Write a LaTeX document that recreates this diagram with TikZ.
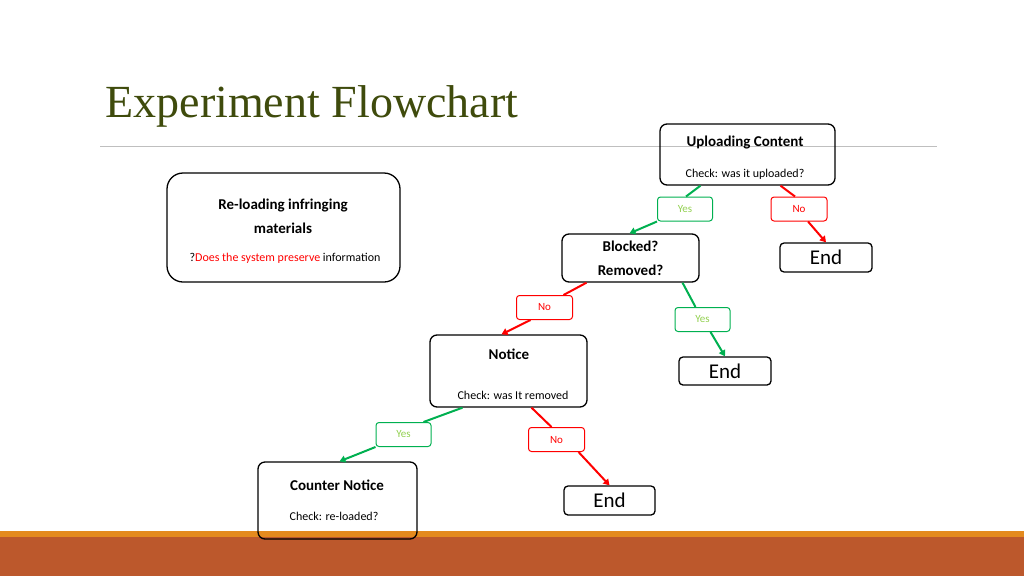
\documentclass[tikz,border=0pt]{standalone}
\usepackage{fontspec}
\setmainfont{Carlito}
\newfontfamily\titlefont{Liberation Serif}
\usetikzlibrary{arrows.meta}
\definecolor{olivetitle}{HTML}{3F4B0C}
\definecolor{yesgreen}{HTML}{00B050}
\definecolor{yestext}{HTML}{92D050}
\definecolor{nored}{HTML}{FF0000}
\definecolor{barorange}{HTML}{E48A1E}
\definecolor{barbrown}{HTML}{BC582C}
\tikzset{
  flowbox/.style={draw, line width=1.3pt, rounded corners=7pt, inner sep=0pt},
  yeslab/.style={draw=yesgreen, line width=1pt, rounded corners=3pt, minimum width=55pt, minimum height=24pt, text=yestext, font=\fontsize{11}{11}\selectfont},
  nolab/.style={draw=nored, line width=1pt, rounded corners=3pt, minimum width=56pt, minimum height=24pt, text=nored, font=\fontsize{11}{11}\selectfont},
  yesarr/.style={yesgreen, line width=2pt},
  noarr/.style={nored, line width=2pt},
  tip/.style={-{Triangle[length=6pt,width=7pt]}}
}
\begin{document}
\begin{tikzpicture}[x=1pt,y=-1pt]
    \useasboundingbox (0,0) rectangle (1024,576);
    \fill[barbrown] (0,537) rectangle (1024,576);
    \fill[barorange] (0,531) rectangle (1024,537);
    \draw[gray!50, line width=1pt] (100,146)--(937,146);
    \node[anchor=base west, text=olivetitle, font=\titlefont\fontsize{46}{46}\selectfont] (title) at (102,117) {Experiment Flowchart};

    % boxes
    \node[flowbox, minimum width=233pt, minimum height=109pt, rounded corners=16pt] (reload) at (283.5,227.5) {};
    \node[font=\bfseries\fontsize{15}{24}\selectfont, align=center] at (283,216) {Re-loading infringing\\materials};
    \node[font=\fontsize{12}{12}\selectfont] at (285,258) {?\textcolor{nored}{Does the system preserve} information};

    \node[flowbox, minimum width=175pt, minimum height=61pt] (up) at (747.5,154.5) {};
    \node[font=\bfseries\fontsize{15}{15}\selectfont] at (745,143) {Uploading Content};
    \node[font=\fontsize{12}{12}\selectfont] at (745,174) {Check: was it uploaded?};

    \node[flowbox, minimum width=137pt, minimum height=48pt, font=\bfseries\fontsize{15}{24}\selectfont, align=center] (blk) at (630.5,258) {Blocked?\\Removed?};

    \node[flowbox, minimum width=157pt, minimum height=72pt] (notice) at (508.5,371) {};
    \node[font=\bfseries\fontsize{15}{15}\selectfont] at (509,354) {Notice};
    \node[font=\fontsize{12}{12}\selectfont] at (513,395) {Check: was It removed};

    \node[flowbox, minimum width=159pt, minimum height=77pt] (counter) at (337.5,500.5) {};
    \node[font=\bfseries\fontsize{15}{15}\selectfont] at (337,485) {Counter Notice};
    \node[font=\fontsize{12}{12}\selectfont] at (334,516) {Check: re-loaded?};

    \node[flowbox, rounded corners=4pt, minimum width=92pt, minimum height=29pt, font=\fontsize{21}{21}\selectfont] (endA) at (826,257.5) {End};
    \node[flowbox, rounded corners=4pt, minimum width=92pt, minimum height=28pt, font=\fontsize{21}{21}\selectfont] (endB) at (725,371) {End};
    \node[flowbox, rounded corners=4pt, minimum width=91pt, minimum height=29pt, font=\fontsize{21}{21}\selectfont] (endC) at (609.5,500.5) {End};

    % labels
    \node[yeslab] (yesA) at (685,209) {Yes};
    \node[nolab] (noA) at (799,209) {No};
    \node[nolab] (noB) at (544.5,307.5) {No};
    \node[yeslab] (yesB) at (702.5,319.5) {Yes};
    \node[yeslab] (yesC) at (403.5,434.5) {Yes};
    \node[nolab] (noC) at (556.5,439.5) {No};

    % connectors
    \draw[yesarr] ([xshift=-47pt]up.south) -- ([xshift=1pt]yesA.north);
    \draw[yesarr, tip] (yesA.south west) -- ([xshift=-1pt]blk.north);
    \draw[noarr] ([xshift=33pt]up.south) -- ([xshift=-4pt]noA.north);
    \draw[noarr, tip] ([xshift=9pt]noA.south) -- (endA.north);
    \draw[noarr] ([xshift=-44pt]blk.south) -- ([xshift=19pt]noB.north);
    \draw[noarr, tip] ([xshift=-14pt]noB.south) -- ([xshift=-7pt]notice.north);
    \draw[yesarr] ([xshift=52pt]blk.south) -- ([xshift=-7pt]yesB.north);
    \draw[yesarr, tip] ([xshift=8pt]yesB.south) -- (endB.north);
    \draw[yesarr] ([xshift=-46pt]notice.south) -- ([xshift=20pt]yesC.north);
    \draw[yesarr, tip] (yesC.south west) -- ([xshift=2pt]counter.north);
    \draw[noarr] ([xshift=23pt]notice.south) -- ([xshift=-5pt]noC.north);
    \draw[noarr, tip] ([xshift=22pt]noC.south) -- (endC.north);
\end{tikzpicture}
\end{document}
